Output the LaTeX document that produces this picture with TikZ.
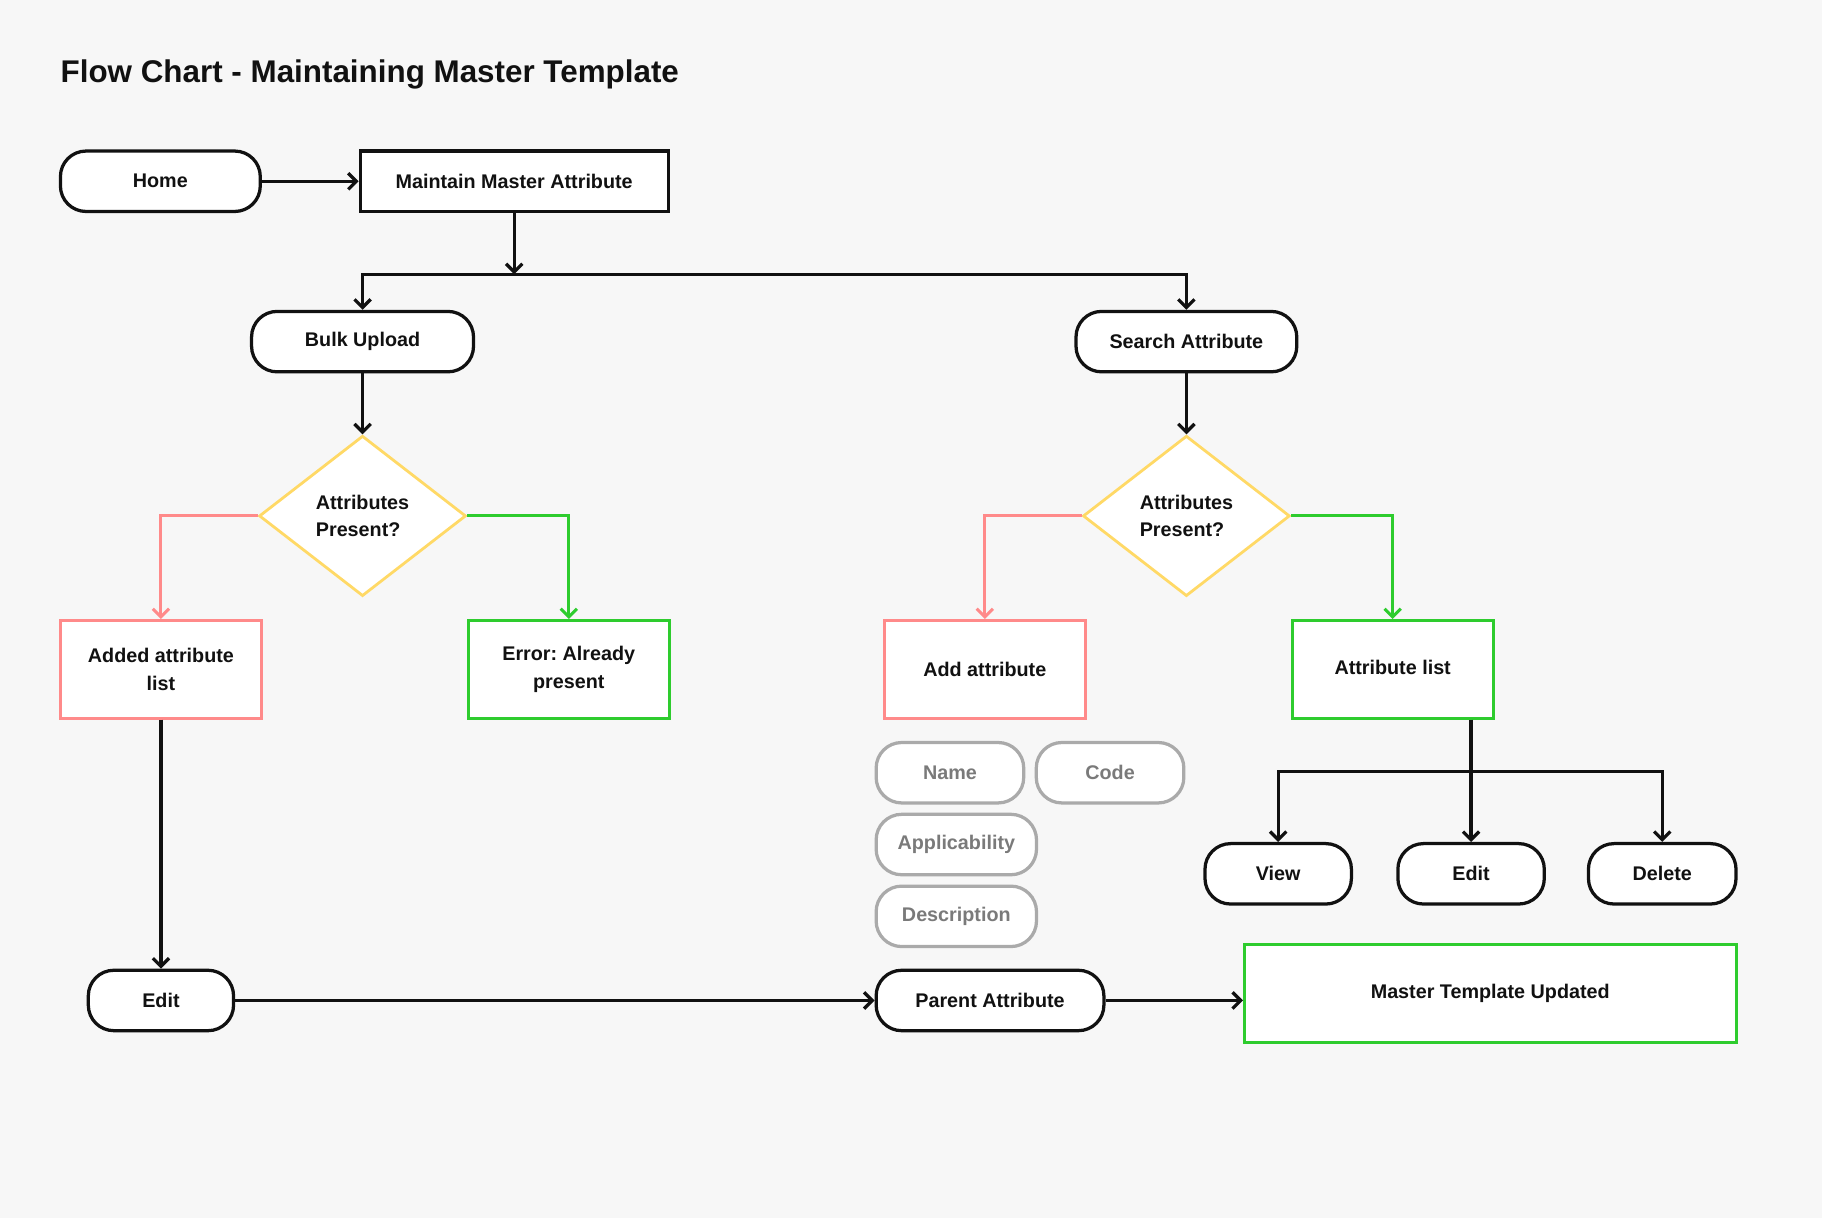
\documentclass[tikz,border=0pt]{standalone}
\usepackage{fontspec}
\setmainfont{Liberation Sans}
\usetikzlibrary{positioning,shapes.geometric,arrows.meta}
\definecolor{bgcol}{HTML}{F7F7F7}
\definecolor{ink}{HTML}{111111}
\definecolor{nored}{HTML}{FF8A8A}
\definecolor{yesgreen}{HTML}{2ECC2E}
\definecolor{askyellow}{HTML}{FFD966}
\definecolor{fieldgrey}{HTML}{AAAAAA}
\definecolor{fieldtext}{HTML}{7A7A7A}
\frenchspacing
\begin{document}
\begin{tikzpicture}[
        x=1pt, y=-1pt,
        font=\fontsize{17}{24}\selectfont\bfseries,
        pill/.style={draw=ink, line width=2.8pt, rounded corners=22pt, fill=white, text=ink, minimum height=52pt, inner sep=0pt},
        block/.style={draw=ink, line width=2.8pt, fill=white, text=ink, minimum height=52pt, inner sep=0pt},
        nobox/.style={draw=nored, line width=2.6pt, fill=white, text=ink, minimum width=173pt, minimum height=84pt, align=center, inner sep=0pt},
        yesbox/.style={draw=yesgreen, line width=2.6pt, fill=white, text=ink, minimum width=173pt, minimum height=84pt, align=center, inner sep=0pt},
        ask/.style={diamond, draw=askyellow, line width=2.4pt, fill=white, text=ink, minimum width=178pt, minimum height=138pt, align=left, inner sep=0pt},
        field/.style={draw=fieldgrey, line width=2.8pt, rounded corners=22pt, fill=white, text=fieldtext, minimum height=52pt, inner sep=0pt},
        arrow/.style={-{Straight Barb[length=7pt,width=14pt]}, line width=2.8pt, draw=ink},
        noarrow/.style={-{Straight Barb[length=7pt,width=14pt]}, line width=2.6pt, draw=nored},
        yesarrow/.style={-{Straight Barb[length=7pt,width=14pt]}, line width=2.6pt, draw=yesgreen}
    ]

    % Canvas
    \fill[bgcol] (0,0) rectangle (1568,1048);
    \useasboundingbox (0,0) rectangle (1568,1048);

    % Title
    \node[anchor=west, inner sep=0pt, text=ink, font=\fontsize{27}{32}\selectfont\bfseries] (title) at (52,64) {Flow Chart - Maintaining Master Template};

    % Top row
    \node[pill, minimum width=172pt] (home) at (138,156) {Home};
    \node[block, minimum width=265pt] (maintain) at (442.5,156) {Maintain Master Attribute};
    \coordinate (split) at (442.5,236);

    % Two branches
    \node[pill, minimum width=191pt] (bulk) at (312,294) {Bulk Upload};
    \node[pill, minimum width=190pt] (search) at (1021,294) {Search Attribute};
    \node[ask] (askbulk) at (312,444) {Attributes\\Present?};
    \node[ask] (asksearch) at (1021,444) {Attributes\\Present?};

    % Outcomes
    \node[nobox] (added) at (138.5,576) {Added attribute\\list};
    \node[yesbox] (error) at (489.5,576) {Error: Already\\present};
    \node[nobox] (addattr) at (847.5,576) {Add attribute};
    \node[yesbox] (attrlist) at (1198.5,576) {\raisebox{3pt}{Attribute list}};

    % Attribute fields
    \node[field, minimum width=127pt] (name) at (817.5,665) {Name};
    \node[field, minimum width=127pt, right=8pt of name] (code) {Code};
    \node[field, minimum width=138pt, below=7pt of name.south west, anchor=north west] (applic) {Applicability};
    \node[field, minimum width=138pt, below=7pt of applic] (descr) {Description};

    % List actions
    \node[pill, minimum width=126pt] (view) at (1100,752) {View};
    \node[pill, minimum width=126pt] (editlist) at (1266,752) {Edit};
    \node[pill, minimum width=127pt] (delete) at (1430.5,752) {Delete};
    \coordinate (fork) at (1266,664);

    % Bottom row
    \node[pill, minimum width=125pt] (edit) at (138.5,861) {Edit};
    \node[pill, minimum width=196pt] (parent) at (852,861) {Parent Attribute};
    \node[yesbox, minimum width=423pt] (updated) at (1282.5,855) {\raisebox{3pt}{Master Template Updated}};

    % Lines
    \draw[arrow] (home) -- (maintain);
    \draw[arrow] (maintain.south) -- (split);
    \draw[arrow] (split) -| (bulk.north);
    \draw[arrow] (split) -| (search.north);
    \draw[arrow] (bulk) -- (askbulk);
    \draw[arrow] (search) -- (asksearch);
    \draw[noarrow] (askbulk.west) -| (added.north);
    \draw[yesarrow] (askbulk.east) -| (error.north);
    \draw[noarrow] (asksearch.west) -| (addattr.north);
    \draw[yesarrow] (asksearch.east) -| (attrlist.north);
    \draw[arrow] (attrlist.south -| fork) -- (editlist.north);
    \draw[arrow] (fork) -| (view.north);
    \draw[arrow] (fork) -| (delete.north);
    \draw[arrow] (added) -- (edit);
    \draw[arrow] (edit) -- (parent);
    \draw[arrow] (parent.east) -- (parent.east -| updated.west);

\end{tikzpicture}
\end{document}
